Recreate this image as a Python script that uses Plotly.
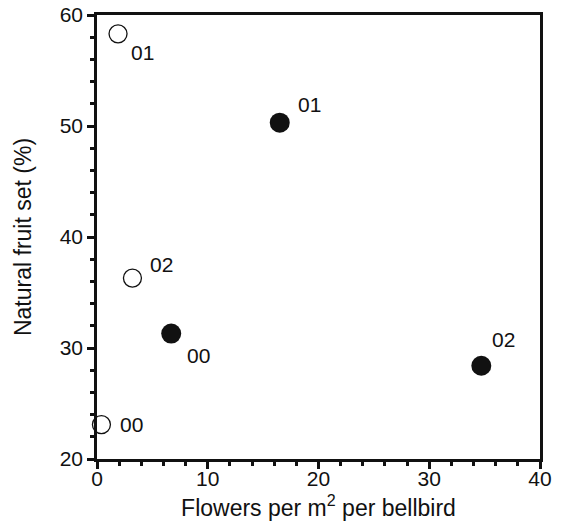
import plotly.graph_objects as go

# Data
open_x = [1.9, 3.2, 0.4]
open_y = [58.3, 36.3, 23.1]
open_labels = ["01", "02", "00"]

filled_x = [6.7, 16.5, 34.7]
filled_y = [31.3, 50.3, 28.4]
filled_labels = ["00", "01", "02"]

x_ticks = [0, 10, 20, 30, 40]
y_ticks = [20, 30, 40, 50, 60]

# label offsets in pixels (position styling)
open_offsets = [(24, -19), (29, 14), (30, 0)]
filled_offsets = [(27, -22), (30, 18), (22, 26)]

FONT = "Liberation Sans, Arial, Helvetica, sans-serif"
INK = "#111111"

fig = go.Figure()
fig.add_trace(go.Scatter(
    x=open_x, y=open_y, mode="markers",
    marker=dict(size=18, color="white", line=dict(color=INK, width=1.3)),
    showlegend=False, cliponaxis=False))
fig.add_trace(go.Scatter(
    x=filled_x, y=filled_y, mode="markers",
    marker=dict(size=20, color=INK, line=dict(color=INK, width=0)),
    showlegend=False, cliponaxis=False))

for xs, ys, labs, offs in [(open_x, open_y, open_labels, open_offsets),
                           (filled_x, filled_y, filled_labels, filled_offsets)]:
    for x, y, t, (dx, dy) in zip(xs, ys, labs, offs):
        fig.add_annotation(x=x, y=y, text=t, showarrow=False,
                           xshift=dx, yshift=dy,
                           font=dict(family=FONT, size=21, color=INK))

axis_common = dict(
    showgrid=False, zeroline=False, showline=True, linewidth=2.5,
    linecolor=INK, mirror=True, ticks="outside", ticklen=7,
    tickwidth=2.5, tickcolor=INK, automargin=False,
    tickfont=dict(family=FONT, size=21, color=INK),
)

fig.update_xaxes(range=[0, 40], tickvals=x_ticks, **axis_common,
                 ticklabelstandoff=-8,
                 minor=dict(dtick=2, ticks="outside", ticklen=4, tickwidth=2.5,
                            tickcolor=INK, showgrid=False),
                 title=dict(text="Flowers per m<sup>2</sup> per bellbird",
                            font=dict(family=FONT, size=23, color=INK),
                            standoff=11))
fig.update_yaxes(range=[20, 60], tickvals=y_ticks, **axis_common,
                 minor=dict(dtick=2, ticks="outside", ticklen=4, tickwidth=2.5,
                            tickcolor=INK, showgrid=False),
                 title=dict(text="Natural fruit set (%)",
                            font=dict(family=FONT, size=23, color=INK),
                            standoff=22))

fig.update_layout(
    width=564, height=527,
    margin=dict(l=97, r=24, t=15, b=68),
    paper_bgcolor="white", plot_bgcolor="white",
)

fig.write_html("out.html")
